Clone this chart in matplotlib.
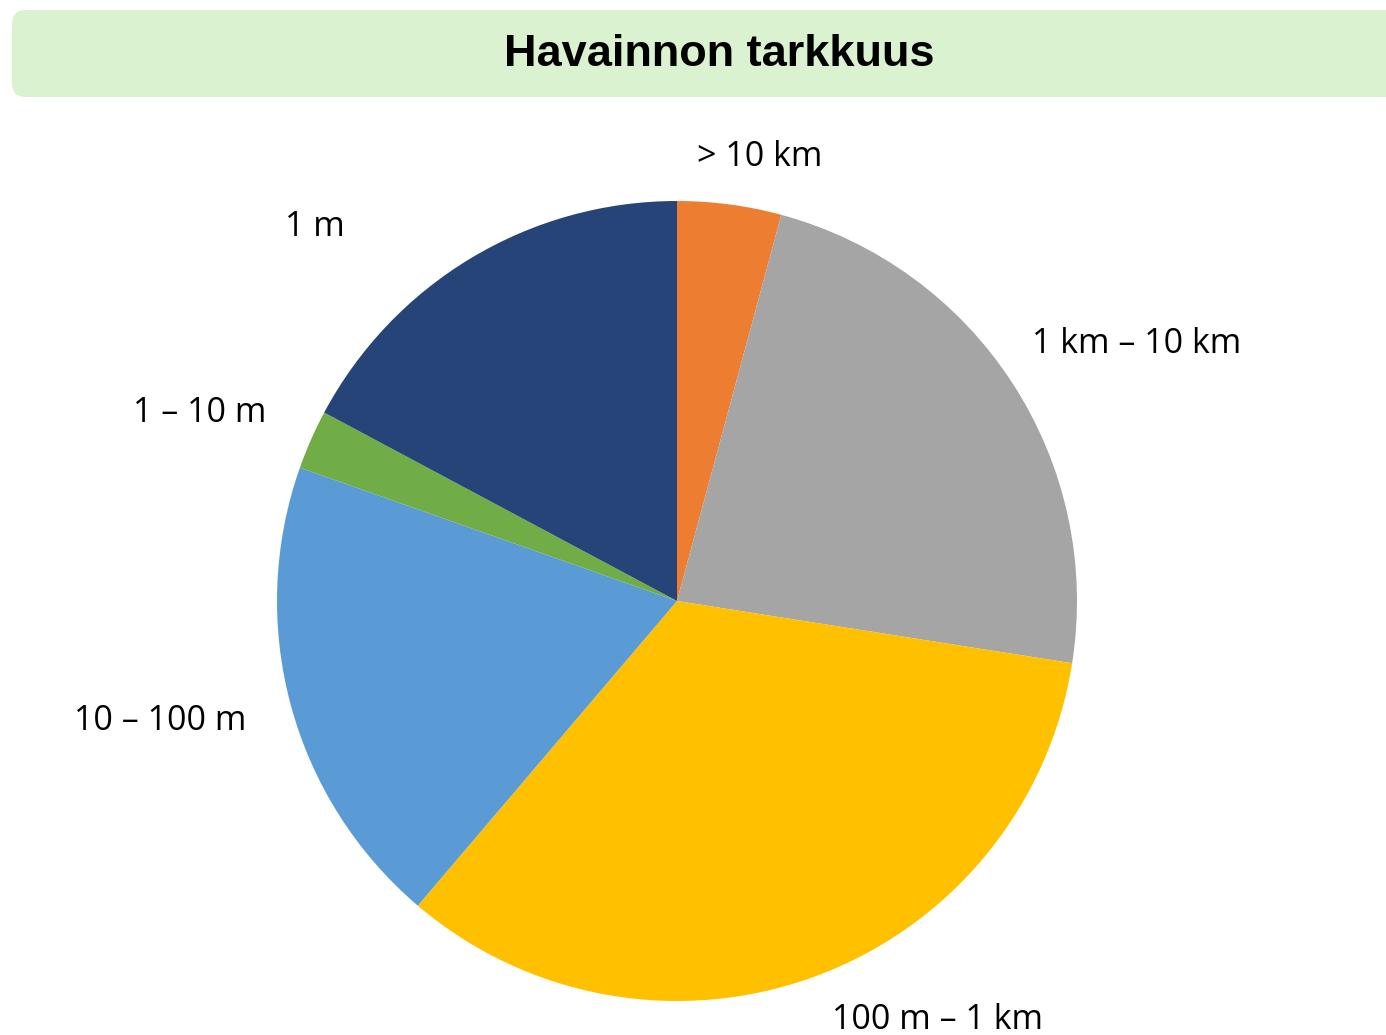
import matplotlib.pyplot as plt
from matplotlib.patches import FancyBboxPatch

# Slice data (clockwise from 12 o'clock)
labels = ['> 10 km', '1 km – 10 km', '100 m – 1 km', '10 – 100 m', '1 – 10 m', '1 m']
shares = [4.2, 23.3, 33.75, 19.2, 2.4, 17.2]
colors = ['#ED7D31', '#A5A5A5', '#FFC000', '#5B9BD5', '#70AD47', '#264478']
# label centres in pixels (x, y from top)
label_pos = [(760, 157), (1137, 344), (938, 1020), (160, 721), (200, 413), (315, 227)]

W, H = 1386, 1035
fig = plt.figure(figsize=(W / 100, H / 100), dpi=100)

# title banner
box = FancyBboxPatch((12 / W, 1 - 97 / H), 1.1, 87 / H,
                     boxstyle='round,pad=0,rounding_size=0.01',
                     transform=fig.transFigure, facecolor='#DAF2D0',
                     edgecolor='none', mutation_aspect=W / H)
fig.patches.append(box)
fig.text(719 / W, 1 - 55 / H, 'Havainnon tarkkuus', ha='center', va='center',
         fontsize=32.5, fontweight='bold', family='Liberation Sans')

# pie
ax = fig.add_axes([277 / W, (H - 1001) / H, 800 / W, 800 / H])
ax.pie(shares, colors=colors, startangle=90, counterclock=False, radius=1,
       wedgeprops=dict(linewidth=0))
ax.set_xlim(-1, 1)
ax.set_ylim(-1, 1)
ax.set_aspect('equal')
ax.axis('off')

for lab, (x, y) in zip(labels, label_pos):
    fig.text(x / W, 1 - y / H, lab, ha='center', va='center',
             fontsize=24.5, family='Open Sans', color='black')

fig.savefig('out.png', dpi=100)
